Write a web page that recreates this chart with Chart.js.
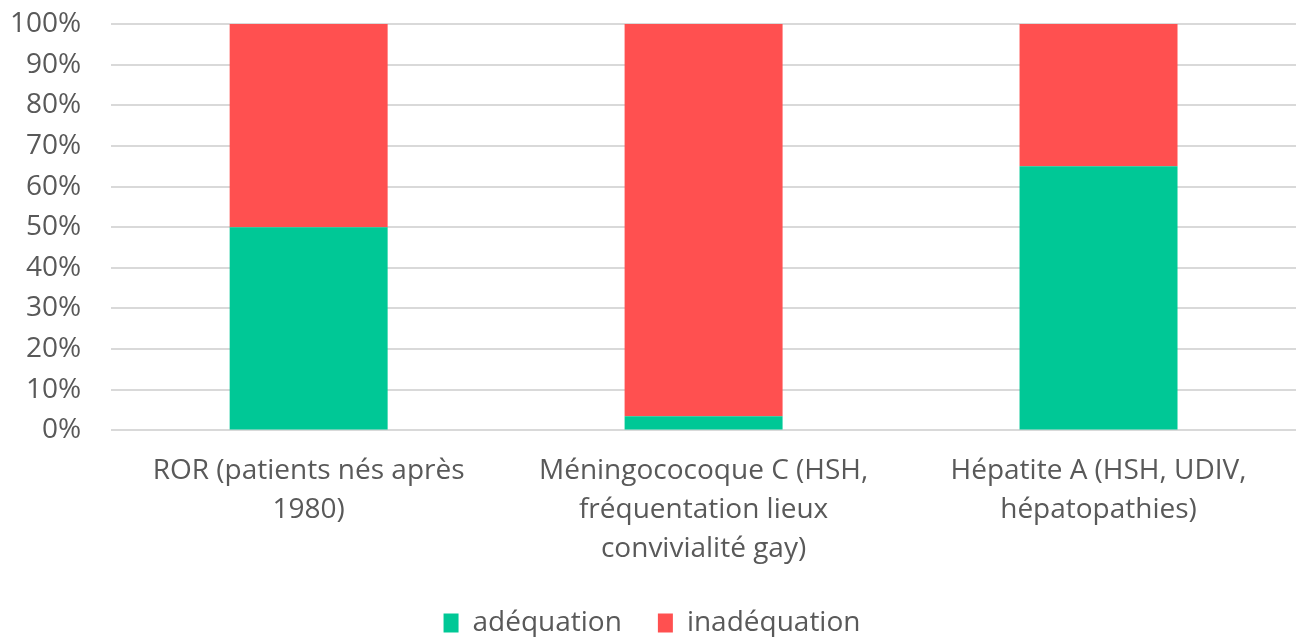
<!DOCTYPE html>
<html>
<head>
<meta charset="utf-8">
<script src="https://cdn.jsdelivr.net/npm/chart.js@4"></script>
<style>
  html, body { margin: 0; padding: 0; background: #fff; }
  #wrap { width: 1303px; height: 637px; }
</style>
</head>
<body>
<div id="wrap"><canvas id="chart"></canvas></div>
<script>
var categories = [
    ['ROR (patients nés après', '1980)'],
    ['Méningococoque C (HSH,', 'fréquentation lieux', 'convivialité gay)'],
    ['Hépatite A (HSH, UDIV,', 'hépatopathies)']
];
var adequation = [50, 3.5, 65];
var inadequation = [50, 96.5, 35];
var yTicks = [0, 10, 20, 30, 40, 50, 60, 70, 80, 90, 100];

var textColor = '#595959';
var fontFamily = '"Open Sans", "Noto Sans", sans-serif';

var ctx = document.getElementById('chart').getContext('2d');
var myChart = new Chart(ctx, {
    type: 'bar',
    data: {
        labels: categories,
        datasets: [{
            label: 'adéquation',
            data: adequation,
            backgroundColor: '#00C896',
            borderWidth: 0
        }, {
            label: 'inadéquation',
            data: inadequation,
            backgroundColor: '#FF5050',
            borderWidth: 0
        }]
    },
    options: {
        responsive: true,
        maintainAspectRatio: false,
        animation: false,
        layout: { padding: { top: 24, right: 7, left: 8, bottom: -10 } },
        datasets: { bar: { categoryPercentage: 0.4, barPercentage: 1 } },
        scales: {
            x: {
                stacked: true,
                grid: { display: false },
                border: { display: false },
                ticks: {
                    color: textColor,
                    font: { family: fontFamily, size: 28, lineHeight: 1.4 },
                    padding: 13,
                    maxRotation: 0
                },
                afterFit: function (axis) { axis.height -= 9; }
            },
            y: {
                stacked: true,
                min: 0,
                max: 100,
                afterBuildTicks: function (axis) {
                    axis.ticks = yTicks.map(function (v) { return { value: v }; });
                },
                grid: { color: '#D9D9D9', lineWidth: 2, tickLength: 28, tickColor: '#ffffff' },
                border: { display: false },
                ticks: {
                    color: textColor,
                    font: { family: fontFamily, size: 28 },
                    padding: 2,
                    autoSkip: false,
                    callback: function (v) { return v + '%'; }
                }
            }
        },
        plugins: {
            legend: {
                position: 'bottom',
                labels: {
                    color: textColor,
                    font: { family: fontFamily, size: 28 },
                    boxWidth: 15,
                    boxHeight: 19,
                    padding: 36
                }
            },
            tooltip: { enabled: false }
        }
    }
});
</script>
</body>
</html>
